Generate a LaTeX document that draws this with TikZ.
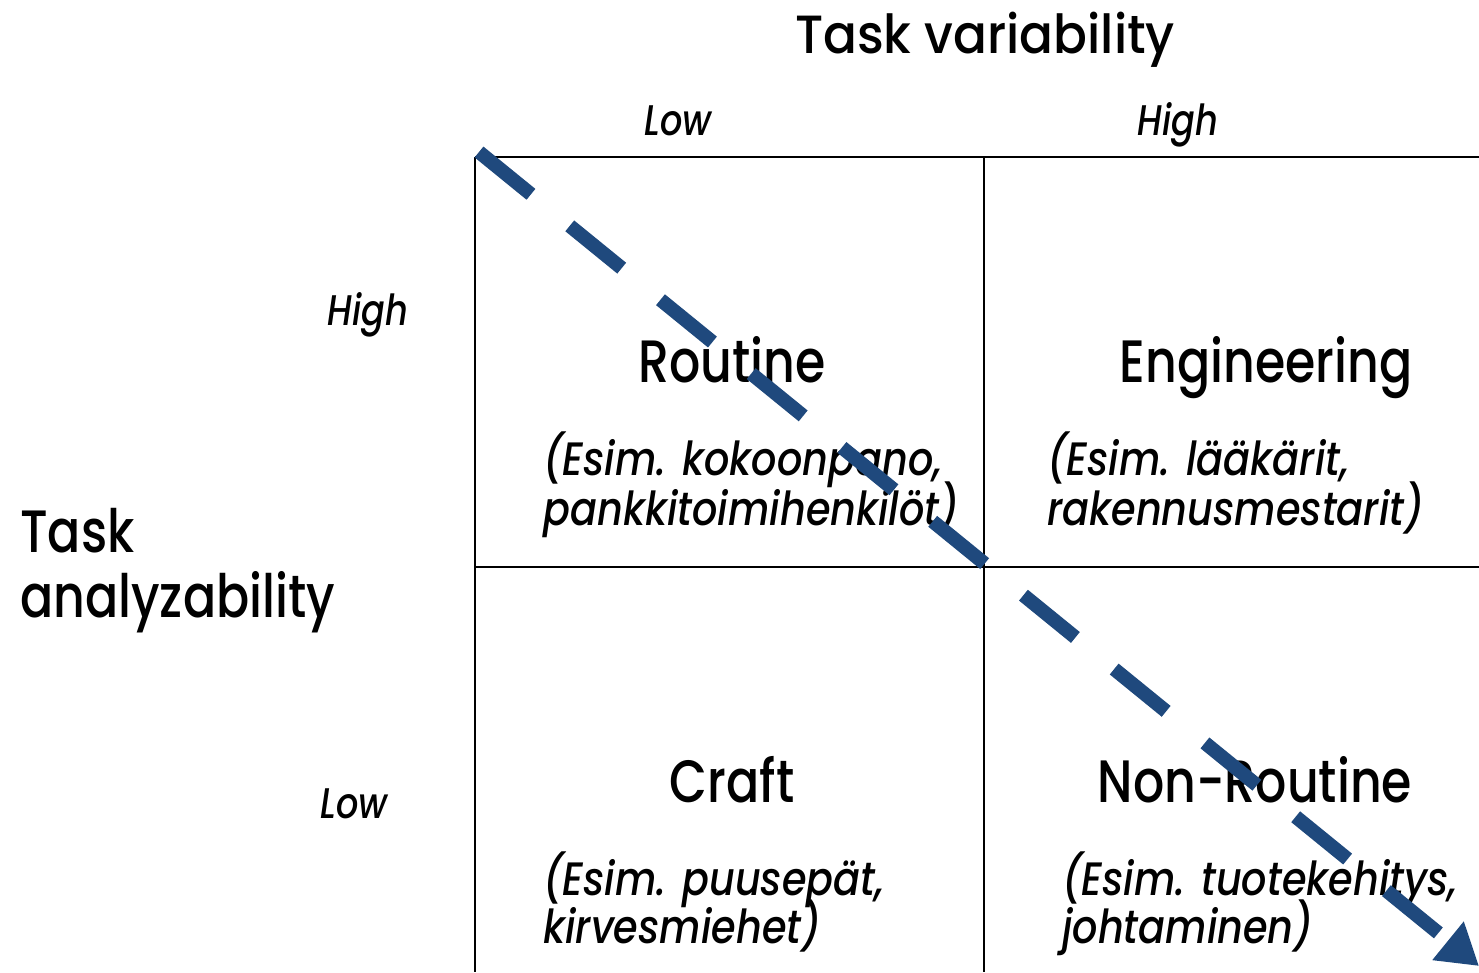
\documentclass[tikz,border=0pt]{standalone}
\usepackage{fontspec}
\setmainfont{Poppins}[FakeStretch=0.82, UprightFont=* Medium, ItalicFont=* Medium Italic]
\newfontfamily\axisfont{Poppins}[FakeStretch=0.93, UprightFont=* Medium]
\newfontfamily\exfont{Poppins}[FakeStretch=0.85, UprightFont=* Medium Italic]
\usetikzlibrary{arrows.meta}
\definecolor{arrowblue}{HTML}{1F497D}
\begin{document}
\begin{tikzpicture}[x=1bp,y=-1bp,
  grid/.style={line width=2bp, black},
  big/.style={font=\fontsize{60}{72}\selectfont, inner sep=0pt, anchor=base},
  axis/.style={font=\axisfont\fontsize{54}{64}\selectfont, inner sep=0pt, anchor=base},
  ex/.style={font=\exfont\fontsize{47}{50}\selectfont, inner sep=0pt, anchor=base west},
  lvl/.style={font=\fontsize{43}{50}\selectfont\itshape, inner sep=0pt, anchor=base},
  trend/.style={arrowblue, line width=14bp, dash pattern=on 67bp off 50bp,
    -{Triangle[length=40bp,width=47bp]}}
]
\useasboundingbox (0,0) rectangle (1479,972);
% grid
\coordinate (tl) at (475,157);
\coordinate (tm) at (984,157);
\coordinate (tr) at (1479,157);
\coordinate (ml) at (475,567);
\coordinate (mr) at (1479,567);
\coordinate (bl) at (475,972);
\coordinate (bm) at (984,972);
\draw[grid] (tl) -- (tr);
\draw[grid] (ml) -- (mr);
\draw[grid] (tl) -- (bl);
\draw[grid] (tm) -- (bm);
% axis titles
\node[axis] (tv) at (985,53) {Task variability};
\node[big, anchor=base west] (ta1) at (20,552) {Task};
\node[big, anchor=base west] (ta2) at (20,617) {analyzability};
% levels
\node[lvl] (lowx) at (678,135) {Low};
\node[lvl] (highx) at (1178,135) {High};
\node[lvl] (highy) at (368,325) {High};
\node[lvl] (lowy) at (354,818) {Low};
% quadrants
\node[big] (routine) at (732,382) {Routine};
\node[big] (engineering) at (1266,382) {Engineering};
\node[big] (craft) at (732,802) {Craft};
\node[big] (nonroutine) at (1255,802) {Non-Routine};
\node[ex] (r1) at (543,475) {(Esim. kokoonpano,};
\node[ex] (r2) at (543,525) {pankkitoimihenkilöt)};
\node[ex] (e1) at (1047,475) {(Esim. lääkärit,};
\node[ex] (e2) at (1047,525) {rakennusmestarit)};
\node[ex] (c1) at (543,895) {(Esim. puusepät,};
\node[ex] (c2) at (543,943) {kirvesmiehet)};
\node[ex] (n1) at (1062,895) {(Esim. tuotekehitys,};
\node[ex] (n2) at (1062,943) {johtaminen)};
% trend arrow
\coordinate (as) at (479,152);
\coordinate (ae) at (1479,966);
\draw[trend] (as) -- (ae);
\end{tikzpicture}
\end{document}
